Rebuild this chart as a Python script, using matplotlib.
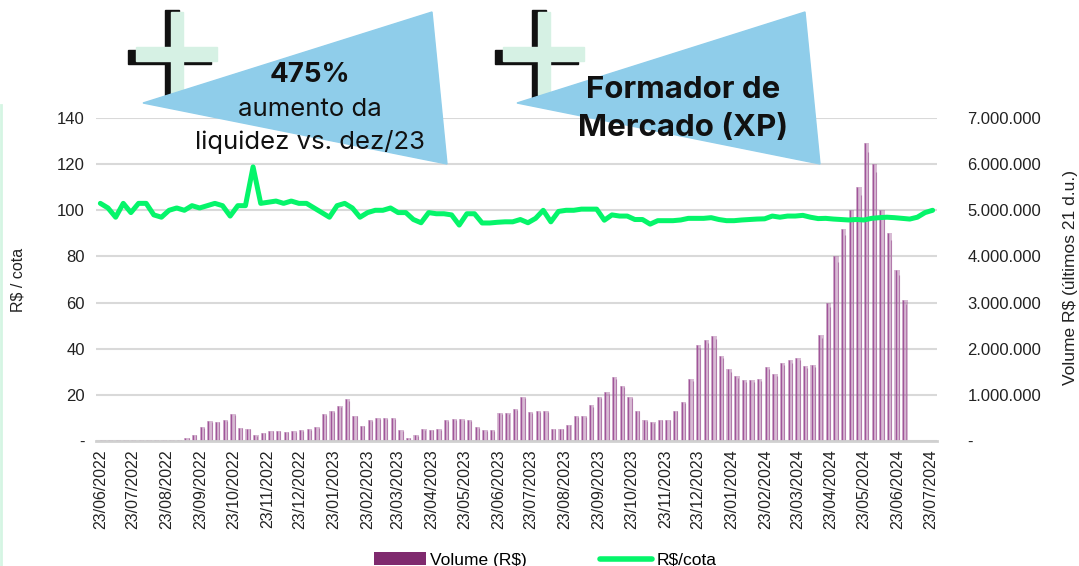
import numpy as np
import pandas as pd
import matplotlib
matplotlib.use("Agg")
import matplotlib.pyplot as plt
import matplotlib.dates as mdates
from matplotlib.patches import Patch, Rectangle, Polygon
from matplotlib.lines import Line2D
from matplotlib.ticker import FuncFormatter, FixedLocator

# weekly volume (R$ millions, rolling 21 business days), from 23/06/2022
volume_mm = [
    0.03, 0.02, 0.03, 0.02, 0.03, 0.02, 0.03, 0.02, 0.03, 0.02,
    0.03, 0.06, 0.14, 0.30, 0.43, 0.42, 0.45, 0.58, 0.28, 0.27,
    0.12, 0.18, 0.22, 0.22, 0.20, 0.21, 0.23, 0.25, 0.30, 0.58,
    0.65, 0.75, 0.90, 0.55, 0.33, 0.45, 0.49, 0.50, 0.50, 0.23,
    0.06, 0.12, 0.25, 0.24, 0.25, 0.45, 0.48, 0.47, 0.45, 0.30,
    0.23, 0.23, 0.60, 0.60, 0.70, 0.95, 0.62, 0.64, 0.65, 0.27,
    0.27, 0.35, 0.54, 0.54, 0.77, 0.95, 1.06, 1.38, 1.20, 0.95,
    0.66, 0.45, 0.41, 0.46, 0.46, 0.66, 0.85, 1.35, 2.07, 2.18,
    2.27, 1.85, 1.55, 1.40, 1.32, 1.32, 1.35, 1.60, 1.45, 1.70,
    1.75, 1.80, 1.62, 1.65, 2.30, 3.00, 4.00, 4.60, 5.00, 5.50,
    6.45, 6.00, 5.00, 4.50, 3.70, 3.05,
]

# weekly R$/cota, from 23/06/2022
price = [
    103, 101, 97, 103, 99, 103, 103, 98, 97, 100,
    101, 100, 102, 101, 102, 103, 102, 97.5, 102, 102,
    118.8, 103, 103.5, 104, 103, 104, 103, 103, 101, 99,
    97, 102, 103, 101, 97, 99, 100, 100, 101, 99,
    99, 96, 94.6, 99, 98.5, 98.5, 98, 93.6, 98.5, 98.5,
    94.5, 94.5, 94.8, 95, 95, 96, 94.6, 96.5, 100, 95,
    99.5, 100, 100, 100.5, 100.5, 100.5, 95.7, 98, 97.5, 97.5,
    96, 96, 94, 95.5, 95.5, 95.5, 95.8, 96.5, 96.5, 96.5,
    96.8, 96, 95.5, 95.5, 95.8, 96, 96.2, 96.3, 97.5, 97,
    97.5, 97.5, 97.8, 97, 96.4, 96.5, 96.2, 96, 95.8, 96,
    95.8, 96.5, 96.8, 97, 96.8, 96.5, 96.2, 97, 99, 100,
]

start = pd.Timestamp("2022-06-23")
vol_dates = pd.date_range(start, periods=len(volume_mm), freq="7D")
price_dates = pd.date_range(start, periods=len(price), freq="7D")
tick_dates = pd.date_range("2022-06-01", "2024-07-01", freq="MS") + pd.Timedelta(days=22)

font = "Liberation Sans"
callout_font = "Inter"

fig = plt.figure(figsize=(10.79, 5.66), dpi=100)
ax = fig.add_axes([96 / 1079, 1 - 441 / 566, (937 - 96) / 1079, (441 - 118) / 566])
ax2 = ax.twinx()
ax.set_zorder(ax2.get_zorder() + 1)
ax.patch.set_visible(False)

# volume bars on the right axis (translucent, with darker stripes)
vol = np.array(volume_mm) * 1e6
ax2.bar(vol_dates, vol, width=5, align="edge",
        color=(0.60, 0.30, 0.56, 0.38), linewidth=0, zorder=2)
ax2.vlines(vol_dates + pd.Timedelta(days=1), 0, vol, color="#a0559a",
           linewidth=1.0, zorder=3)
ax2.vlines(vol_dates + pd.Timedelta(days=4), 0, vol * 0.97, color="#b27aab",
           linewidth=0.8, zorder=3)
ax2.set_ylim(0, 7e6)
ax2.yaxis.set_major_locator(FixedLocator(np.arange(0, 7.5e6, 1e6)))
ax2.yaxis.set_major_formatter(FuncFormatter(
    lambda v, p: "-" if v == 0 else f"{int(v):,}".replace(",", ".")))
ax2.grid(axis="y", color="#d9d9d9", linewidth=1.5, zorder=0)
ax2.set_axisbelow(True)

# price line on the left axis
ax.plot(price_dates, price, color="#05f56a", linewidth=3.6, solid_capstyle="round")
ax.set_ylim(0, 140)
ax.yaxis.set_major_locator(FixedLocator(np.arange(0, 141, 20)))
ax.yaxis.set_major_formatter(FuncFormatter(lambda v, p: "-" if v == 0 else f"{int(v)}"))

ax.set_xlim(start - pd.Timedelta(days=4), start + pd.Timedelta(days=767))
ax.xaxis.set_major_locator(FixedLocator(mdates.date2num(tick_dates)))
ax.xaxis.set_major_formatter(mdates.DateFormatter("%d/%m/%Y"))

for a in (ax, ax2):
    for s in a.spines.values():
        s.set_visible(False)
ax.spines["bottom"].set_visible(True)
ax.spines["bottom"].set_color("#d0d0d0")
ax.spines["bottom"].set_linewidth(2)

ax.tick_params(axis="x", length=0, pad=6, labelsize=11.5, rotation=90)
ax.tick_params(axis="y", length=0, pad=8, labelsize=12)
ax2.tick_params(axis="y", length=0, pad=22, labelsize=12)
for lab in ax.get_xticklabels() + ax.get_yticklabels() + ax2.get_yticklabels():
    lab.set_fontfamily(font)
    lab.set_color("#222222")

fig.text(18 / 1079, 1 - 280 / 566, "R$ / cota", rotation=90, ha="center", va="center",
         fontsize=11.5, family=font, color="#222222")
fig.text(1070 / 1079, 1 - 278 / 566, "Volume R$ (últimos 21 d.u.)", rotation=90,
         ha="center", va="center", fontsize=12.5, family=font, color="#222222")

# legend at the bottom (partly cut off, as in the source)
handles = [Patch(facecolor="#7f2a6e"),
           Line2D([0], [0], color="#05f56a", linewidth=4, solid_capstyle="round")]
leg = fig.legend(handles, ["Volume (R$)", "R$/cota"], loc="center", ncol=2,
                 bbox_to_anchor=(545 / 1079, 1 - 560 / 566), frameon=False,
                 prop={"family": "Liberation Sans", "size": 12.5},
                 handlelength=3.0, handletextpad=0.25, columnspacing=4.2)

# overlay in pixel coordinates for the callouts
ov = fig.add_axes([0, 0, 1, 1], zorder=10)
ov.set_xlim(0, 1079)
ov.set_ylim(566, 0)
ov.axis("off")
ov.plot([1, 1], [105, 566], color="#d5f5e3", linewidth=2)


def plus_icon(ox):
    ov.add_patch(Rectangle((ox + 29, 10), 14, 93, color="#111111"))
    ov.add_patch(Rectangle((ox - 8, 50), 83, 14, color="#111111"))
    ov.add_patch(Rectangle((ox + 35, 12), 12, 83, color="#d6f1e4"))
    ov.add_patch(Rectangle((ox, 47), 81, 14, color="#d6f1e4"))


plus_icon(136)
plus_icon(503)

ov.add_patch(Polygon([(143, 103), (432, 12), (447, 164)], color="#8fcdea"))
ov.add_patch(Polygon([(517, 103), (805, 12), (820, 164)], color="#8fcdea"))

ov.text(310, 75, "475%", ha="center", va="center", fontsize=20, fontweight="bold",
        family=callout_font, color="#111111")
ov.text(310, 110, "aumento da", ha="center", va="center", fontsize=18.5,
        family=callout_font, color="#111111")
ov.text(310, 142, "liquidez vs. dez/23", ha="center", va="center", fontsize=18.5,
        family=callout_font, color="#111111")
ov.text(683, 90, "Formador de", ha="center", va="center", fontsize=22.5, fontweight="bold",
        family=callout_font, color="#111111")
ov.text(683, 128, "Mercado (XP)", ha="center", va="center", fontsize=22.5, fontweight="bold",
        family=callout_font, color="#111111")

fig.savefig("out.png", dpi=100)
